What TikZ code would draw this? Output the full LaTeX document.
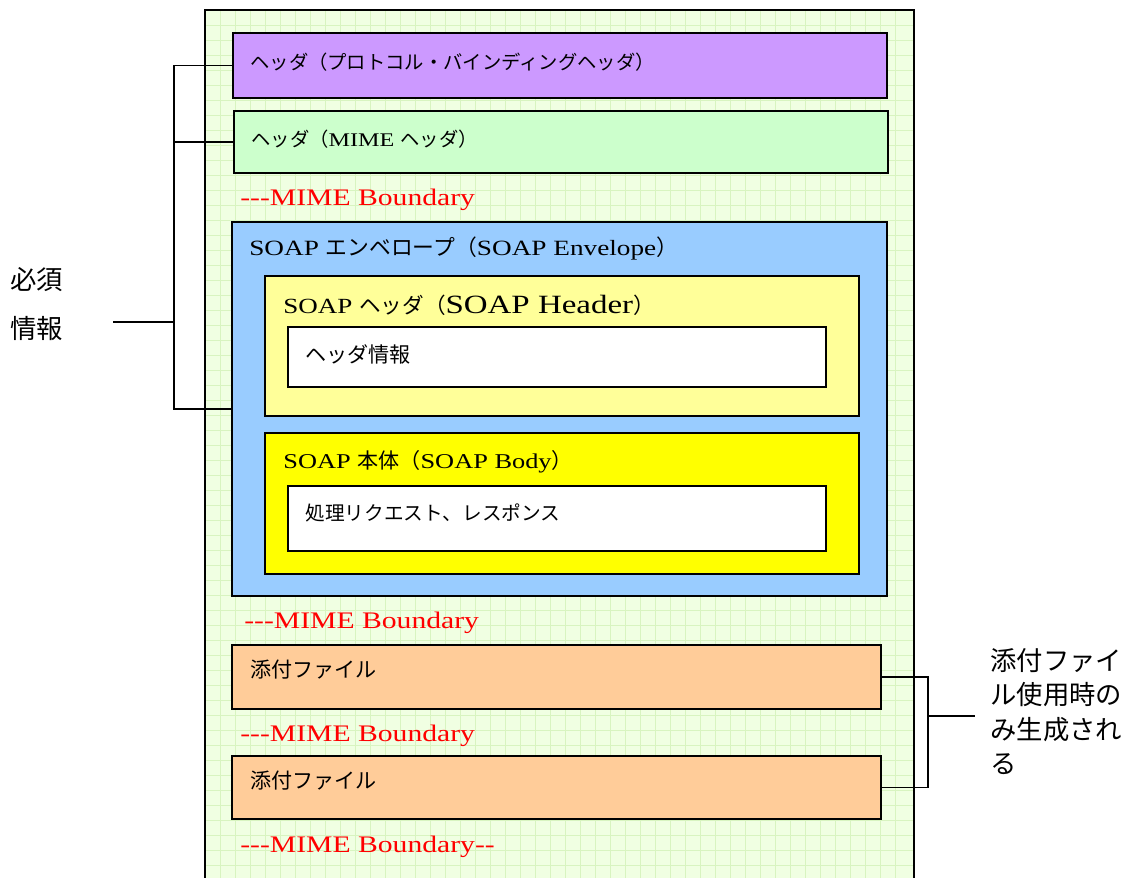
\documentclass[tikz,border=0pt]{standalone}
\usepackage{fontspec}
\setmainfont{Liberation Serif}[FakeStretch=1.25]
\newfontfamily\cjk{Noto Sans CJK JP}
\newcommand\jp[1]{{\cjk #1}}
\newcommand\dsh{\mbox{-}}
\newcommand\pw{0.02cm}
\definecolor{protopurple}{HTML}{CC99FF}
\definecolor{mimegreen}{HTML}{CCFFCC}
\definecolor{envblue}{HTML}{99CCFF}
\definecolor{hdryellow}{HTML}{FFFF99}
\definecolor{bodyyellow}{HTML}{FFFF00}
\definecolor{attorange}{HTML}{FFCC99}
\definecolor{pagegreen}{RGB}{240,255,226}
\definecolor{gridgreen}{RGB}{216,244,192}

\begin{document}
\begin{tikzpicture}[x=0.02cm, y=-0.02cm,
  box/.style={draw, line width=1.1pt, inner sep=0pt},
  txt/.style={anchor=west, inner sep=0pt, font=\fontsize{12}{14}\selectfont},
  bnd/.style={txt, text=red, font=\fontsize{13.5}{16}\selectfont},
  brk/.style={line width=1pt},
  stub/.style={line width=1.6pt}]
\useasboundingbox (0,0) rectangle (1132,877);
% page with grid
\fill [pagegreen] (205,10) rectangle (914,880);
\foreach \gx in {220,235,...,905}
  \draw [gridgreen, line width=0.4pt] (\gx,10) -- (\gx,880);
\foreach \gy in {25,40,...,875}
  \draw [gridgreen, line width=0.4pt] (205,\gy) -- (914,\gy);
\draw [line width=1.1pt] (205,880) -- (205,10) -- (914,10) -- (914,880);
% boxes
\node [box, fill=protopurple, minimum width=654*\pw, minimum height=65*\pw] (proto) at (560,65.5) {};
\node [box, fill=mimegreen, minimum width=654*\pw, minimum height=62*\pw] (mimehdr) at (561,142) {};
\node [box, fill=envblue, minimum width=655*\pw, minimum height=374*\pw] (env) at (559.5,409) {};
\node [box, fill=hdryellow, minimum width=594*\pw, minimum height=140*\pw] (shdr) at (562,346) {};
\node [box, fill=white, minimum width=538*\pw, minimum height=60*\pw] (hinfo) at (557,357) {};
\node [box, fill=bodyyellow, minimum width=594*\pw, minimum height=141*\pw] (sbody) at (562,503.5) {};
\node [box, fill=white, minimum width=538*\pw, minimum height=65*\pw] (binfo) at (557,518.5) {};
\node [box, fill=attorange, minimum width=649*\pw, minimum height=64*\pw] (att1) at (556.5,677) {};
\node [box, fill=attorange, minimum width=649*\pw, minimum height=63*\pw] (att2) at (556.5,787.5) {};
% texts
\node [txt, font=\fontsize{11}{13}\selectfont] (protot) at (250,62) {\jp{ヘッダ（プロトコル・バインディングヘッダ）}};
\node [txt, font=\fontsize{11}{13}\selectfont] (mimet) at (251,139) {\jp{ヘッダ（}MIME \jp{ヘッダ）}};
\node [bnd] (bnd1) at (240,200) {\dsh\dsh\dsh MIME Boundary};
\node [txt, font=\fontsize{12.4}{14}\selectfont] (envt) at (249,248) {SOAP \jp{エンベロープ（}SOAP Envelope\jp{）}};
\node [txt, font=\fontsize{12.3}{14}\selectfont] (shdrt) at (283,305) {SOAP \jp{ヘッダ（}{\fontsize{15}{16}\selectfont SOAP Header}\jp{）}};
\node [txt] (hinfot) at (305,354) {\jp{ヘッダ情報}};
\node [txt] (sbodyt) at (283,462) {SOAP \jp{本体（}SOAP Body\jp{）}};
\node [txt, font=\fontsize{11.2}{13}\selectfont] (binfot) at (305,513) {\jp{処理リクエスト、レスポンス}};
\node [bnd] (bnd2) at (244,623) {\dsh\dsh\dsh MIME Boundary};
\node [txt] (att1t) at (250,670) {\jp{添付ファイル}};
\node [bnd] (bnd3) at (240,736) {\dsh\dsh\dsh MIME Boundary};
\node [txt] (att2t) at (250,781) {\jp{添付ファイル}};
\node [bnd] (bnd4) at (240,847) {\dsh\dsh\dsh MIME Boundary\dsh\dsh};
\node [txt, font=\fontsize{15}{18}\selectfont] (req1) at (10,280) {\jp{必須}};
\node [txt, font=\fontsize{15}{18}\selectfont] (req2) at (10,328) {\jp{情報}};
\node [anchor=north west, inner sep=0pt, align=left, font=\fontsize{15}{19.6}\selectfont\cjk] (attnote) at (990,648)
  {添付ファイ\\ル使用時の\\み生成され\\る};
% brackets
\coordinate (lbar) at (174,322);
\coordinate (lstub) at (113,322);
\coordinate (rbar) at (928,716);
\coordinate (rstub) at (975,716);
\draw [brk] (proto.west) -| (lbar) |- (env.west);
\draw [brk] (mimehdr.west) -- (mimehdr.west -| lbar);
\draw [stub] (lstub) -- (lbar);
\draw [brk] (att1.east) -| (rbar) |- (att2.east);
\draw [stub] (rbar) -- (rstub);
\end{tikzpicture}
\end{document}
